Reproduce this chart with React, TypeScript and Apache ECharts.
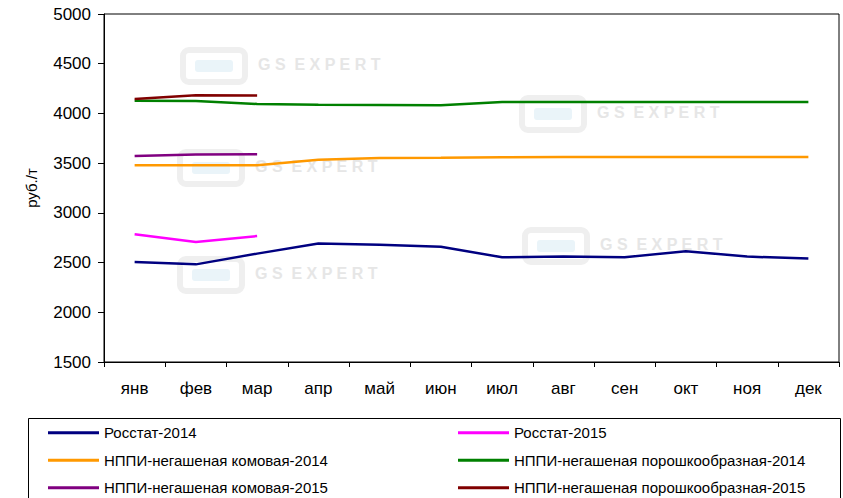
import React, { useEffect, useRef } from "react";
import * as echarts from "echarts";

const months = ["янв", "фев", "мар", "апр", "май", "июн", "июл", "авг", "сен", "окт", "ноя", "дек"];

const rosstat2014 = [2505, 2482, 2590, 2692, 2680, 2660, 2553, 2560, 2553, 2615, 2560, 2540];
const rosstat2015 = [2785, 2707, 2767, null, null, null, null, null, null, null, null, null];
const komovaya2014 = [3478, 3478, 3478, 3535, 3552, 3555, 3560, 3563, 3563, 3563, 3563, 3563];
const poroshok2014 = [4128, 4125, 4095, 4087, 4085, 4083, 4115, 4115, 4115, 4115, 4115, 4115];
const komovaya2015 = [3572, 3588, 3589, null, null, null, null, null, null, null, null, null];
const poroshok2015 = [4145, 4182, 4180, null, null, null, null, null, null, null, null, null];

const seriesNames = [
  "Росстат-2014",
  "Росстат-2015",
  "НППИ-негашеная комовая-2014",
  "НППИ-негашеная порошкообразная-2014",
  "НППИ-негашеная комовая-2015",
  "НППИ-негашеная порошкообразная-2015",
];
const seriesData = [rosstat2014, rosstat2015, komovaya2014, poroshok2014, komovaya2015, poroshok2015];
const seriesColors = ["#000080", "#FF00FF", "#FF9900", "#008000", "#800080", "#800000"];

const FONT = "Arial, 'Liberation Sans', sans-serif";

function watermark(x: number, y: number) {
  return {
    type: "group",
    x,
    y,
    z: -10,
    silent: true,
    children: [
      {
        type: "rect",
        shape: { x: 0, y: 0, width: 62, height: 32, r: 6 },
        style: { fill: "none", stroke: "#efefef", lineWidth: 6 },
      },
      {
        type: "rect",
        shape: { x: 12, y: 10, width: 38, height: 12, r: 3 },
        style: { fill: "#eaf4f9" },
      },
      {
        type: "text",
        x: 75,
        y: 6,
        style: { text: "G S  E X P E R T", fill: "#e6e6e6", font: "bold 16px " + FONT },
      },
    ],
  };
}

export default function App() {
  const ref = useRef<HTMLDivElement>(null);
  useEffect(() => {
    if (!ref.current) return;
    const chart = echarts.init(ref.current, null, { renderer: "svg" });
    chart.setOption({
      animation: false,
      backgroundColor: "#fff",
      grid: {
        left: 104,
        top: 14,
        right: 4,
        bottom: 136,
        show: true,
        borderColor: "#000",
        borderWidth: 1,
        backgroundColor: "transparent",
      },
      xAxis: {
        type: "category",
        data: months,
        boundaryGap: true,
        axisLine: { lineStyle: { color: "#000", width: 1 } },
        axisTick: { show: true, length: 5, lineStyle: { color: "#000" } },
        axisLabel: { color: "#000", fontSize: 17, fontFamily: FONT, margin: 18 },
        splitLine: { show: false },
      },
      yAxis: {
        type: "value",
        min: 1500,
        max: 5000,
        interval: 500,
        name: "руб./т",
        nameLocation: "middle",
        nameRotate: 90,
        nameGap: 65,
        nameTextStyle: { color: "#000", fontSize: 15, fontFamily: FONT },
        axisLine: { show: true, lineStyle: { color: "#000", width: 1 } },
        axisTick: { show: true, length: 6, lineStyle: { color: "#000" } },
        axisLabel: {
          color: "#000",
          fontSize: 17,
          fontFamily: FONT,
          margin: 13,
          formatter: (v: number) => String(v),
        },
        splitLine: { show: false },
      },
      legend: {
        orient: "horizontal",
        left: 43,
        top: 414,
        width: 830,
        itemWidth: 51,
        itemHeight: 3,
        itemGap: 0,
        icon: "rect",
        textStyle: {
          fontSize: 15,
          color: "#000",
          fontFamily: FONT,
          lineHeight: 27.5,
          height: 27.5,
          width: 354,
          overflow: "none",
        },
        data: seriesNames,
      },
      graphic: [
        watermark(183, 50),
        watermark(522, 98),
        watermark(180, 152),
        watermark(525, 230),
        watermark(180, 259),
        {
          type: "rect",
          silent: true,
          shape: { x: 28.5, y: 418.5, width: 812, height: 100 },
          style: { fill: "none", stroke: "#000", lineWidth: 1 },
        },
      ],
      series: seriesNames.map((name, i) => ({
        name,
        type: "line",
        data: seriesData[i],
        color: seriesColors[i],
        showSymbol: false,
        symbol: "none",
        lineStyle: { color: seriesColors[i], width: 2.5 },
        itemStyle: { color: seriesColors[i] },
        connectNulls: false,
        z: 3,
      })),
    });
    return () => chart.dispose();
  }, []);
  return (
    <div
      ref={ref}
      style={{ position: "fixed", left: 0, top: 0, width: 843, height: 498 }}
    />
  );
}
